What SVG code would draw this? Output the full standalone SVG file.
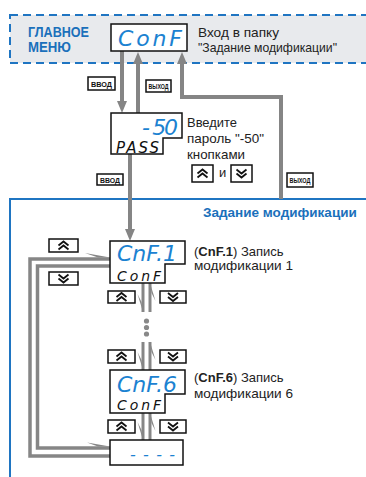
<svg xmlns="http://www.w3.org/2000/svg" xmlns:xlink="http://www.w3.org/1999/xlink" width="366" height="477" viewBox="0 0 366 477">
<style>
.txt{font-family:"Liberation Sans",Arial,sans-serif;font-size:13px;fill:#222}
.ttl{font-family:"Liberation Sans",Arial,sans-serif;font-size:14.5px;font-weight:bold;fill:#1a70bb}
.disp{fill:#fff;stroke:#111;stroke-width:1.5}
.seg{font-family:"DejaVu Sans","Liberation Sans",sans-serif;font-weight:200;font-style:oblique;fill:#1b82d1}
.segk{font-family:"DejaVu Sans","Liberation Sans",sans-serif;font-weight:200;font-style:oblique;fill:#111}
.lbl rect{fill:#fff;stroke:#111;stroke-width:1.5}
.lbl text{font-family:"Liberation Sans",Arial,sans-serif;font-size:7px;font-weight:bold;fill:#111;text-anchor:middle}
.btn rect{fill:#fff;stroke:#111;stroke-width:1.5}
.chev{fill:none;stroke:#111;stroke-width:1.8}
.arr{fill:none;stroke:#858585;stroke-width:4}
.loop{fill:none;stroke:#868686;stroke-width:3.5}
.pair{fill:none;stroke:#868686;stroke-width:3}
.barb{fill:#868686}
</style>
<defs>
<marker id="head" viewBox="0 -5 12 10" refX="0" refY="0" markerWidth="12" markerHeight="10" markerUnits="userSpaceOnUse" orient="auto">
<path d="M0,-5 L12,0 L0,5 Z" fill="#858585"/>
</marker>
<g id="up"><polyline class="chev" points="-5,0 0,-4 5,0"/><polyline class="chev" points="-5,4 0,0 5,4"/></g>
<g id="down"><polyline class="chev" points="-5,-4 0,0 5,-4"/><polyline class="chev" points="-5,0 0,4 5,0"/></g>
</defs>

<!-- areas -->
<g id="main-menu-area">
<rect x="10" y="15" width="370" height="48" fill="#e8eaed" stroke="#1f75c2" stroke-width="2" stroke-dasharray="8 5"/>
<text class="ttl" x="28" y="37" textLength="61" lengthAdjust="spacingAndGlyphs">ГЛАВНОЕ</text>
<text class="ttl" x="28" y="52" textLength="43" lengthAdjust="spacingAndGlyphs">МЕНЮ</text>
<text class="txt" x="198" y="37" textLength="81" lengthAdjust="spacingAndGlyphs">Вход в папку</text>
<text class="txt" x="198" y="52" textLength="139" lengthAdjust="spacingAndGlyphs">"Задание модификации"</text>
</g>
<g id="modification-area">
<rect x="10" y="199" width="380" height="300" fill="none" stroke="#1f75c2" stroke-width="2"/>
<text class="ttl" x="203" y="217" style="font-size:13.5px">Задание модификации</text>
</g>

<!-- connectors -->
<g id="connectors">
<line class="arr" x1="122" y1="51" x2="122" y2="101" marker-end="url(#head)"/>
<line class="arr" x1="138" y1="113" x2="138" y2="64" marker-end="url(#head)"/>
<polyline class="arr" points="281,199 281,97 182,97 182,64" marker-end="url(#head)"/>
<line class="arr" x1="130" y1="154" x2="130" y2="229" marker-end="url(#head)"/>

<path class="loop" d="M110,456 H30 V259 H110"/>
<polygon class="barb" points="85,253 110,257.5 98,257.5"/>
<path class="loop" d="M110,266 H37.5 V448 H110"/>
<polygon class="barb" points="87,442.5 110,446.5 98,446.5"/>

<line class="pair" x1="143" y1="283" x2="143" y2="312"/>
<polygon class="barb" points="137.5,294 143,312 141.5,302"/>
<line class="pair" x1="150" y1="283" x2="150" y2="312"/>
<polygon class="barb" points="155.5,301 150,283 151.5,293"/>

<circle cx="146.5" cy="321" r="2.6" fill="#888"/>
<circle cx="146.5" cy="327.5" r="2.6" fill="#888"/>
<circle cx="146.5" cy="334" r="2.6" fill="#888"/>

<line class="pair" x1="143" y1="342" x2="143" y2="370"/>
<polygon class="barb" points="137.5,352 143,370 141.5,360"/>
<line class="pair" x1="150" y1="342" x2="150" y2="370"/>
<polygon class="barb" points="155.5,360 150,342 151.5,352"/>

<line class="pair" x1="143" y1="413" x2="143" y2="440"/>
<polygon class="barb" points="137.5,422 143,440 141.5,430"/>
<line class="pair" x1="150" y1="413" x2="150" y2="440"/>
<polygon class="barb" points="155.5,431 150,413 151.5,423"/>
</g>

<!-- labels on connectors -->
<g id="label-vvod-1" class="lbl"><rect x="88" y="77" width="27" height="13"/><text x="101.5" y="86.5" textLength="21" lengthAdjust="spacingAndGlyphs">ВВОД</text></g>
<g id="label-vyhod-1" class="lbl"><rect x="146" y="80" width="25" height="12"/><text x="158.5" y="89" textLength="20" lengthAdjust="spacingAndGlyphs">ВЫХОД</text></g>
<g id="label-vvod-2" class="lbl"><rect x="97" y="174" width="26" height="11"/><text x="110" y="182.5" textLength="20" lengthAdjust="spacingAndGlyphs">ВВОД</text></g>
<g id="label-vyhod-2" class="lbl"><rect x="287" y="173" width="26" height="14"/><text x="300" y="183" textLength="21" lengthAdjust="spacingAndGlyphs">ВЫХОД</text></g>

<!-- nodes -->
<g id="node-conf">
<rect class="disp" x="111" y="24" width="76" height="27"/>
<text class="seg" x="118" y="46" font-size="22" textLength="64" lengthAdjust="spacing">ConF</text>
</g>
<g id="node-pass">
<path class="disp" d="M111,113 H182 V138 H163 V154 H111 Z"/>
<text class="seg" x="178" y="135" font-size="22" text-anchor="end" textLength="36" lengthAdjust="spacing">- 50</text>
<text class="segk" x="116" y="153" font-size="15" textLength="43" lengthAdjust="spacing">PASS</text>
<text class="txt" x="187" y="127" textLength="50" lengthAdjust="spacingAndGlyphs">Введите</text>
<text class="txt" x="187" y="143" textLength="77" lengthAdjust="spacingAndGlyphs">пароль "-50"</text>
<text class="txt" x="187" y="159" textLength="58" lengthAdjust="spacingAndGlyphs">кнопками</text>
<g class="btn"><rect x="192" y="165" width="21" height="17"/><use xlink:href="#up" href="#up" x="202.5" y="173.5"/></g>
<text class="txt" x="219" y="177">и</text>
<g class="btn"><rect x="231" y="165" width="21" height="17"/><use xlink:href="#down" href="#down" x="241.5" y="173.5"/></g>
</g>
<g id="node-cnf1">
<path class="disp" d="M110,241 H185 V264 H165 V283 H110 Z"/>
<text class="seg" x="117" y="261" font-size="22" textLength="60" lengthAdjust="spacing">CnF.1</text>
<text class="segk" x="117" y="281" font-size="14" textLength="44" lengthAdjust="spacing">ConF</text>
<text class="txt" x="194" y="256">(<tspan font-weight="bold">CnF.1</tspan>) Запись</text>
<text class="txt" x="194" y="270" textLength="99" lengthAdjust="spacingAndGlyphs">модификации 1</text>
</g>
<g id="node-cnf6">
<path class="disp" d="M110,370 H185 V394 H165 V413 H110 Z"/>
<text class="seg" x="117" y="392" font-size="22" textLength="60" lengthAdjust="spacing">CnF.6</text>
<text class="segk" x="117" y="410" font-size="14" textLength="44" lengthAdjust="spacing">ConF</text>
<text class="txt" x="194" y="382">(<tspan font-weight="bold">CnF.6</tspan>) Запись</text>
<text class="txt" x="194" y="398" textLength="99" lengthAdjust="spacingAndGlyphs">модификации 6</text>
</g>
<g id="node-dashes">
<rect class="disp" x="110" y="440" width="73" height="25"/>
<text class="seg" x="130" y="460" font-size="16" textLength="45" lengthAdjust="spacing">- - - -</text>
</g>

<!-- buttons -->
<g id="buttons" class="btn">
<rect x="49" y="239" width="29" height="13"/><use xlink:href="#up" href="#up" x="63.5" y="245.5"/>
<rect x="49" y="272" width="29" height="13"/><use xlink:href="#down" href="#down" x="63.5" y="278.5"/>
<rect x="108" y="291" width="27" height="12"/><use xlink:href="#up" href="#up" x="121.5" y="297"/>
<rect x="160" y="291" width="26" height="12"/><use xlink:href="#down" href="#down" x="173" y="297"/>
<rect x="108" y="350" width="27" height="13"/><use xlink:href="#up" href="#up" x="121.5" y="356.5"/>
<rect x="160" y="350" width="26" height="13"/><use xlink:href="#down" href="#down" x="173" y="356.5"/>
<rect x="108" y="420" width="27" height="13"/><use xlink:href="#up" href="#up" x="121.5" y="426.5"/>
<rect x="160" y="420" width="26" height="13"/><use xlink:href="#down" href="#down" x="173" y="426.5"/>
</g>
</svg>
